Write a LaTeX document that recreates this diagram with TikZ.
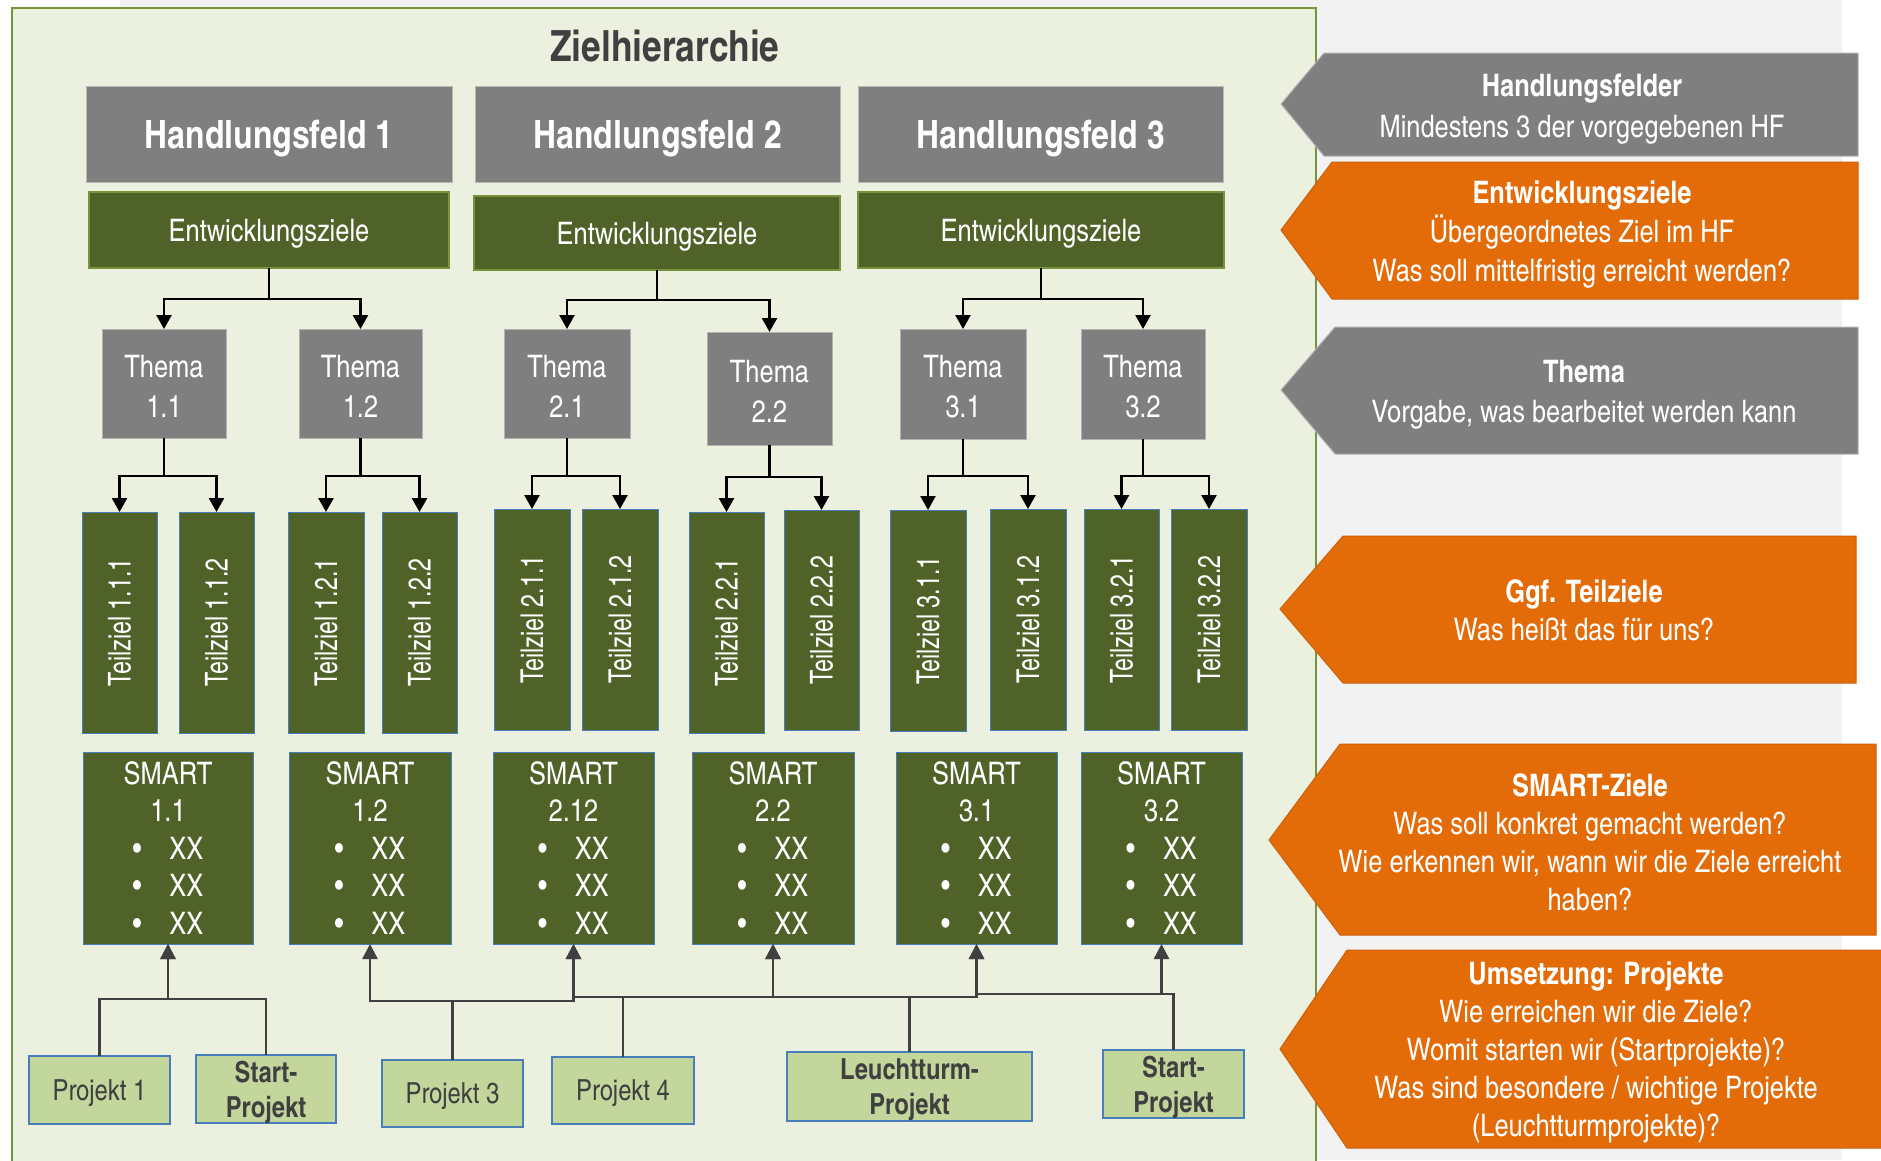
\documentclass[tikz,border=0pt]{standalone}
\usepackage{fontspec}
\setmainfont{texgyreheroscn}[Extension=.otf,UprightFont=*-regular,BoldFont=*-bold,ItalicFont=*-italic,BoldItalicFont=*-bolditalic]
\usepackage{graphicx}
\usetikzlibrary{arrows.meta}
\definecolor{panelfill}{HTML}{EBF1DE}
\definecolor{panelline}{HTML}{77933C}
\definecolor{boxgray}{HTML}{7F7F7F}
\definecolor{dkgreen}{HTML}{4F6228}
\definecolor{ltgreen}{HTML}{C3D69B}
\definecolor{bluedge}{HTML}{4A7EBB}
\definecolor{orng}{HTML}{E36C09}
\definecolor{bggray}{HTML}{F2F2F2}
\definecolor{txtdark}{HTML}{404040}
\newcommand\bx[7]{\node[#1,minimum width={(#4)-(#2)},minimum height={(#5)-(#3)}] (#6) at ({((#2)+(#4))/2},{((#3)+(#5))/2}) {#7};}
\newcommand\smtxt[1]{SMART\\#1\\\textbullet\hspace{28pt}XX\\\textbullet\hspace{28pt}XX\\\textbullet\hspace{28pt}XX}
\newcommand\tzt[1]{\rotatebox{90}{\scalebox{0.9}[1]{Teilziel #1}}}
\newcommand\thtxt[1]{\rule{0pt}{27pt}Thema\\#1}
\tikzset{
  every node/.style={inner sep=0pt,outer sep=0pt},
  hf/.style={fill=boxgray,draw=gray!55,line width=1pt,text=white,font=\bfseries\fontsize{39}{44}\selectfont,align=center,text depth=0pt},
  ez/.style={fill=dkgreen,draw=panelline,line width=1.5pt,text=white,font=\fontsize{31}{38}\selectfont,align=center,text depth=0pt},
  thema/.style={fill=boxgray,draw=gray!60,line width=0.8pt,text=white,font=\fontsize{31}{40}\selectfont,align=center},
  tz/.style={fill=dkgreen,draw=bluedge,line width=1pt,text=white,font=\fontsize{31.5}{36}\selectfont},
  smart/.style={fill=dkgreen,draw=bluedge,line width=1pt,text=white,font=\fontsize{31}{37.5}\selectfont,align=center},
  proj/.style={fill=ltgreen,draw=bluedge,line width=1.2pt,text=txtdark,font=\fontsize{29}{35}\selectfont,align=center,text depth=0pt},
  projb/.style={proj,font=\bfseries\fontsize{29}{35}\selectfont},
  conn/.style={line width=2.5pt,draw=black,-{Triangle[width=15pt,length=14pt]}},
  parr/.style={line width=2.5pt,draw=txtdark,-{Triangle[width=15pt,length=15pt]}},
  sigfill/.style={line width=1pt},
  sigtxt/.style={text=white,font=\fontsize{31}{38}\selectfont,align=center},
}
\begin{document}
\begin{tikzpicture}[x=1pt,y=-1pt]
\clip (0,0) rectangle (1881,1160);
\fill[white] (0,0) rectangle (1881,1160);
\fill[bggray] (120,0) rectangle (1842,1160);
\draw[fill=panelfill,draw=panelline,line width=2pt] (12,8) rectangle (1316,1180);
\node[font=\bfseries\fontsize{43}{48}\selectfont,text=txtdark] (title) at (665,46) {Zielhierarchie};
% Handlungsfelder
\bx{hf}{86}{86}{452}{182}{hf1}{Handlungsfeld 1}
\bx{hf}{475}{86}{840}{182}{hf2}{Handlungsfeld 2}
\bx{hf}{858}{86}{1223}{182}{hf3}{Handlungsfeld 3}
% Entwicklungsziele
\bx{ez}{89}{192}{449}{268}{e1}{Entwicklungsziele}
\bx{ez}{474}{196}{840}{270}{e2}{Entwicklungsziele}
\bx{ez}{858}{192}{1224}{268}{e3}{Entwicklungsziele}
% Themen
\bx{thema}{102}{329}{226}{438}{th11}{\thtxt{1.1}}
\bx{thema}{299}{329}{422}{438}{th12}{\thtxt{1.2}}
\bx{thema}{504}{329}{630}{438}{th21}{\thtxt{2.1}}
\bx{thema}{707}{332}{832}{445}{th22}{\thtxt{2.2}}
\bx{thema}{900}{329}{1026}{439}{th31}{\thtxt{3.1}}
\bx{thema}{1081}{329}{1205}{439}{th32}{\thtxt{3.2}}
% Teilziele
\bx{tz}{82}{512}{157}{733}{tz111}{\tzt{1.1.1}}
\bx{tz}{179}{512}{254}{733}{tz112}{\tzt{1.1.2}}
\bx{tz}{288}{512}{364}{733}{tz121}{\tzt{1.2.1}}
\bx{tz}{382}{512}{457}{733}{tz122}{\tzt{1.2.2}}
\bx{tz}{494}{509}{570}{730}{tz211}{\tzt{2.1.1}}
\bx{tz}{582}{509}{658}{730}{tz212}{\tzt{2.1.2}}
\bx{tz}{689}{512}{764}{733}{tz221}{\tzt{2.2.1}}
\bx{tz}{784}{510}{859}{730}{tz222}{\tzt{2.2.2}}
\bx{tz}{890}{510}{966}{731}{tz311}{\tzt{3.1.1}}
\bx{tz}{990}{509}{1066}{730}{tz312}{\tzt{3.1.2}}
\bx{tz}{1084}{509}{1159}{730}{tz321}{\tzt{3.2.1}}
\bx{tz}{1171}{509}{1247}{730}{tz322}{\tzt{3.2.2}}
% SMART
\bx{smart}{83}{752}{253}{944}{s11}{\smtxt{1.1}}
\bx{smart}{289}{752}{451}{944}{s12}{\smtxt{1.2}}
\bx{smart}{493}{752}{654}{944}{s212}{\smtxt{2.12}}
\bx{smart}{692}{752}{854}{944}{s22}{\smtxt{2.2}}
\bx{smart}{896}{752}{1057}{944}{s31}{\smtxt{3.1}}
\bx{smart}{1081}{752}{1242}{944}{s32}{\smtxt{3.2}}
% Projekte
\bx{proj}{29}{1056}{170}{1124}{p1}{Projekt 1}
\bx{projb}{196}{1055}{336}{1123}{st1}{Start-\\Projekt}
\bx{proj}{382}{1060}{523}{1127}{p3}{Projekt 3}
\bx{proj}{552}{1057}{694}{1124}{p4}{Projekt 4}
\bx{projb}{787}{1052}{1032}{1121}{lt}{Leuchtturm-\\Projekt}
\bx{projb}{1103}{1050}{1244}{1118}{st2}{Start-\\Projekt}
% Connectors top
\draw[conn] (e1.south) -- ++(0,31) -| (th11.north);
\draw[conn] (e1.south) -- ++(0,31) -| (th12.north);
\draw[conn] (e2.south) -- ++(0,30) -| (th21.north);
\draw[conn] (e2.south) -- ++(0,30) -| (th22.north);
\draw[conn] (e3.south) -- ++(0,31) -| (th31.north);
\draw[conn] (e3.south) -- ++(0,31) -| (th32.north);
\draw[conn] (th11.south) -- ++(0,38) -| (tz111.north);
\draw[conn] (th11.south) -- ++(0,38) -| (tz112.north);
\draw[conn] (th12.south) -- ++(0,38) -| (tz121.north);
\draw[conn] (th12.south) -- ++(0,38) -| (tz122.north);
\draw[conn] (th21.south) -- ++(0,38) -| (tz211.north);
\draw[conn] (th21.south) -- ++(0,38) -| (tz212.north);
\draw[conn] (th22.south) -- ++(0,32) -| (tz221.north);
\draw[conn] (th22.south) -- ++(0,32) -| (tz222.north);
\draw[conn] (th31.south) -- ++(0,37) -| (tz311.north);
\draw[conn] (th31.south) -- ++(0,37) -| (tz312.north);
\draw[conn] (th32.south) -- ++(0,37) -| (tz321.north);
\draw[conn] (th32.south) -- ++(0,37) -| (tz322.north);
% Connectors projects
\draw[parr] (p1.north) -- ++(0,-57) -| (s11.south);
\draw[parr] (st1.north) -- ++(0,-56) -| (s11.south);
\draw[parr] (p3.north) -- ++(0,-59) -| (s12.south);
\draw[parr] (p3.north) -- ++(0,-59) -| (s212.south);
\draw[parr] (p4.north) -- ++(0,-60) -| (s212.south);
\draw[parr] (p4.north) -- ++(0,-60) -| (s22.south);
\draw[parr] (lt.north) -- ++(0,-55) -| (s22.south);
\draw[parr] (lt.north) -- ++(0,-55) -| (s31.south);
\draw[parr] (st2.north) -- ++(0,-56) -| (s31.south);
\draw[parr] (st2.north) -- ++(0,-56) -| (s32.south);
% Right side arrows
\draw[sigfill,fill=boxgray,draw=gray!60] (1281,104) -- (1324,53) -- (1858,53) -- (1858,156) -- (1324,156) -- cycle;
\draw[sigfill,fill=orng,draw=orng!90!black] (1281,230) -- (1332,162) -- (1858,162) -- (1858,299) -- (1332,299) -- cycle;
\draw[sigfill,fill=boxgray,draw=gray!60] (1281,390) -- (1335,327) -- (1858,327) -- (1858,454) -- (1335,454) -- cycle;
\draw[sigfill,fill=orng,draw=orng!90!black] (1280,609) -- (1343,536) -- (1856,536) -- (1856,683) -- (1343,683) -- cycle;
\draw[sigfill,fill=orng,draw=orng!90!black] (1269,840) -- (1340,744) -- (1876,744) -- (1876,935) -- (1340,935) -- cycle;
\draw[sigfill,fill=orng,draw=orng!90!black] (1280,1049) -- (1347,950) -- (1895,950) -- (1895,1148) -- (1347,1148) -- cycle;
\node[sigtxt,font=\fontsize{31}{41}\selectfont] (a1) at (1582,109) {\textbf{Handlungsfelder}\\Mindestens 3 der vorgegebenen HF};
\node[sigtxt,font=\fontsize{31}{39}\selectfont] (a2) at (1582,234.5) {\textbf{Entwicklungsziele}\\Übergeordnetes Ziel im HF\\Was soll mittelfristig erreicht werden?};
\node[sigtxt,font=\fontsize{31}{40}\selectfont] (a3) at (1584,395) {\textbf{Thema}\\Vorgabe, was bearbeitet werden kann};
\node[sigtxt] (a4) at (1584,610) {\textbf{Ggf. Teilziele}\\Was heißt das für uns?};
\node[sigtxt] (a5) at (1590,842) {\textbf{SMART-Ziele}\\Was soll konkret gemacht werden?\\Wie erkennen wir, wann wir die Ziele erreicht\\haben?};
\node[sigtxt] (a6) at (1596,1052) {\textbf{Umsetzung: Projekte}\\Wie erreichen wir die Ziele?\\Womit starten wir (Startprojekte)?\\Was sind besondere / wichtige Projekte\\(Leuchtturmprojekte)?};
\end{tikzpicture}
\end{document}
